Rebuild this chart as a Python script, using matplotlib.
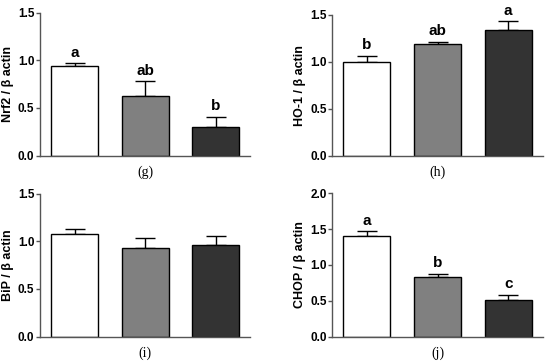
import matplotlib
matplotlib.use("Agg")
import matplotlib.pyplot as plt

groups = ["Control", "Low", "High"]
bar_colors = ["white", "#808080", "#333333"]

nrf2_mean = [0.944, 0.629, 0.300]
nrf2_err = [0.024, 0.154, 0.106]
nrf2_letters = ["a", "ab", "b"]

ho1_mean = [1.002, 1.19, 1.34]
ho1_err = [0.064, 0.022, 0.092]
ho1_letters = ["b", "ab", "a"]

bip_mean = [1.077, 0.934, 0.965]
bip_err = [0.052, 0.101, 0.094]
bip_letters = ["", "", ""]

chop_mean = [1.40, 0.837, 0.507]
chop_err = [0.07, 0.042, 0.079]
chop_letters = ["a", "b", "c"]

panels = [
    ("Nrf2 / \u03b2 actin", nrf2_mean, nrf2_err, nrf2_letters, 1.5, "(g)", [0.0727, 0.570, 0.382, 0.395]),
    ("HO-1 / \u03b2 actin", ho1_mean, ho1_err, ho1_letters, 1.5, "(h)", [0.604, 0.570, 0.383, 0.389]),
    ("BiP / \u03b2 actin", bip_mean, bip_err, bip_letters, 1.5, "(i)", [0.0727, 0.070, 0.382, 0.395]),
    ("CHOP / \u03b2 actin", chop_mean, chop_err, chop_letters, 2.0, "(j)", [0.604, 0.070, 0.383, 0.396]),
]

fig = plt.figure(figsize=(5.5, 3.62), dpi=100)

for ylabel, mean, err, letters, ymax, tag, rect in panels:
    ax = fig.add_axes(rect)
    x = list(range(len(groups)))
    ax.bar(x, mean, width=0.667, color=bar_colors, edgecolor="black", linewidth=1.0, zorder=2)
    ax.errorbar(x, mean, yerr=[[0] * len(err), err], fmt="none", ecolor="black",
                elinewidth=1.0, capsize=7.5, capthick=1.0, zorder=1)
    for xi, m, e, lab in zip(x, mean, err, letters):
        if lab:
            ax.annotate(lab, (xi, m + e), xytext=(0, 2.5), textcoords="offset points",
                        ha="center", va="bottom", fontsize=11, fontweight="bold",
                        family="Liberation Sans")
    ticks = [i * 0.5 for i in range(int(ymax / 0.5) + 1)]
    ax.set_xlim(-0.49, 2.49)
    ax.set_ylim(0, ymax)
    ax.set_yticks(ticks)
    ax.set_yticklabels(["%.1f" % t for t in ticks],
                       fontsize=8.5, fontweight="bold", family="Liberation Sans")
    ax.set_xticks([])
    ax.set_ylabel(ylabel, fontsize=9, fontweight="bold", family="Liberation Sans", labelpad=3)
    ax.spines["top"].set_visible(False)
    ax.spines["right"].set_visible(False)
    for side in ["left", "bottom"]:
        ax.spines[side].set_color("#555555")
        ax.spines[side].set_linewidth(1.0)
    ax.tick_params(axis="y", length=3, width=1.0, color="#555555", pad=1)
    ax.text(0.5, -0.07, tag, transform=ax.transAxes, ha="center", va="top",
            fontsize=10, family="Liberation Serif")

fig.savefig("out.png", dpi=100)
